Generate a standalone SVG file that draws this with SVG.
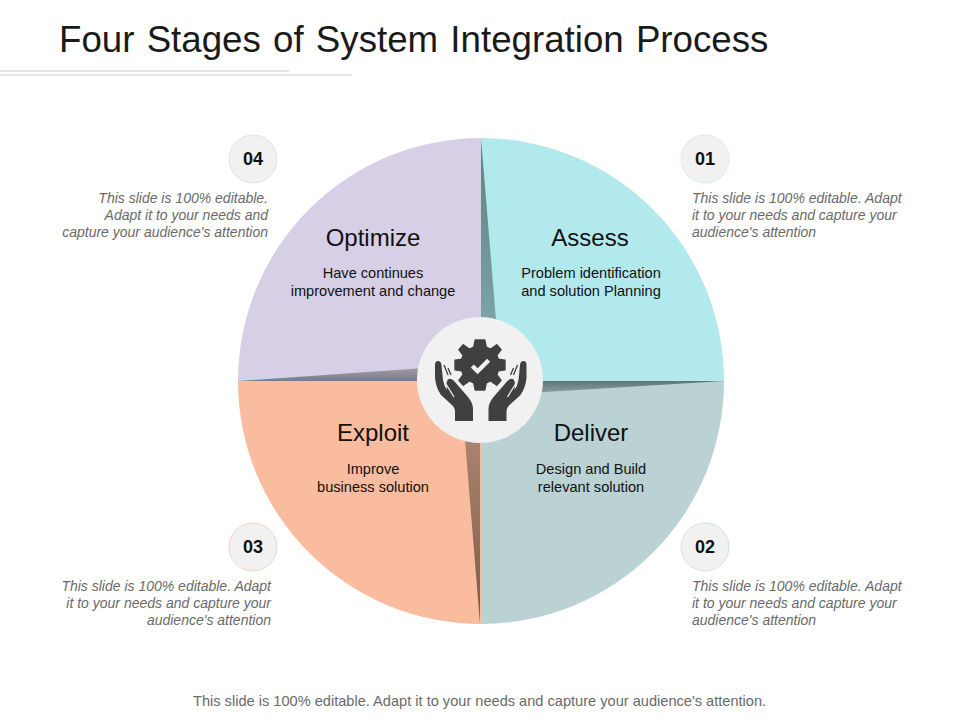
<svg xmlns="http://www.w3.org/2000/svg" width="960" height="720" viewBox="0 0 960 720">
<style>
text{font-family:"Liberation Sans",Arial,sans-serif}
.title{font-size:36.7px;fill:#1a1a1a;word-spacing:2px}
.head{font-size:24px;fill:#111;text-anchor:middle}
.body{font-size:14.6px;fill:#111;text-anchor:middle}
.note{font-size:14px;font-style:italic;fill:#6a6a6a}
.end{text-anchor:end}
.num{font-size:18px;font-weight:bold;fill:#111;text-anchor:middle}
.foot{font-size:14.6px;fill:#6a6a6a}
.badge{fill:#f1f1f2;stroke-width:1}
.ic{fill:#404040}
</style>
<defs>
<linearGradient id="gt" x1="0" y1="0" x2="0" y2="1"><stop offset="0" stop-color="#5f8184"/><stop offset="1" stop-color="#86aeb0"/></linearGradient>
<linearGradient id="gl" x1="0" y1="0" x2="0" y2="1"><stop offset="0" stop-color="#aba8b3"/><stop offset="1" stop-color="#7c7a86"/></linearGradient>
<linearGradient id="gr" x1="0" y1="0" x2="0" y2="1"><stop offset="0" stop-color="#5f7678"/><stop offset="1" stop-color="#9aa8a8"/></linearGradient>
<linearGradient id="gb" x1="0" y1="0" x2="0" y2="1"><stop offset="0" stop-color="#b8917e"/><stop offset="1" stop-color="#7f5a48"/></linearGradient>
<g id="hand">
<path class="ic" d="M35 65Q35 61 38 61Q41 61 41.500 65L43 80Q44 86 47 90L46.500 84Q47 78 51 79Q53 79.500 55 82L68 97Q73 103 73 109V121H55V111Q55 108 52.500 105.500L41 95Q36 88 35 78Z"/>
<path d="M46 84L54 97" fill="none" stroke="#f1f1f2" stroke-width="1.300"/>
<path d="M44 65L48 75M48 68L51 75" fill="none" stroke="#404040" stroke-width="1.300"/>
</g>
</defs>
<g id="header">
<text class="title" x="59" y="52">Four Stages of System Integration Process</text>
<rect x="0" y="70" width="289" height="2" fill="#e6e6e6"/>
<rect x="0" y="74" width="352" height="2" fill="#e6e6e6"/>
</g>
<g id="connectors"></g>
<g id="segment-assess">
<path d="M481 381V138A243 243 0 0 1 724 381Z" fill="#b2e9ed"/>
<path d="M481 138L496 320V381H481Z" fill="url(#gt)"/>
<text class="head" x="590" y="246">Assess</text>
<text class="body"><tspan x="591" y="278">Problem identification</tspan><tspan x="591" y="296">and solution Planning</tspan></text>
</g>
<g id="segment-deliver">
<path d="M481 381H724A243 243 0 0 1 481 624Z" fill="#bad2d4"/>
<path d="M724 381L480 396V381Z" fill="url(#gr)"/>
<text class="head" x="591" y="441">Deliver</text>
<text class="body"><tspan x="591" y="474">Design and Build</tspan><tspan x="591" y="492">relevant solution</tspan></text>
</g>
<g id="segment-exploit">
<path d="M481 381V624A243 243 0 0 1 238 381Z" fill="#fabc9f"/>
<path d="M480 624L465 440V381H480Z" fill="url(#gb)"/>
<text class="head" x="373" y="441">Exploit</text>
<text class="body"><tspan x="373" y="474">Improve</tspan><tspan x="373" y="492">business solution</tspan></text>
</g>
<g id="segment-optimize">
<path d="M481 381H238A243 243 0 0 1 481 138Z" fill="#d6cfe6"/>
<path d="M238 381L481 364V381Z" fill="url(#gl)"/>
<text class="head" x="373" y="246">Optimize</text>
<text class="body"><tspan x="373" y="278">Have continues</tspan><tspan x="373" y="296">improvement and change</tspan></text>
</g>
<g id="hub">
<circle cx="480" cy="380" r="63" fill="#f1f1f2"/>
<g transform="translate(480 365) scale(.96)">
<path class="ic" stroke="#404040" stroke-width="1.500" stroke-linejoin="round" d="M-5-26H5L6.500-18.500L11-16.500L17.500-21L22-16L17.500-10L19-6L26-5V5L19 6L17.500 10L22 16L17.500 21L11 16.500L6.500 18.500L5 26H-5L-6.500 18.500L-11 16.500L-17.500 21L-22 16L-17.500 10L-19 6L-26 5V-5L-19-6L-17.500-10L-22-16L-17.500-21L-11-16.500L-6.500-18.500Z"/>
<path d="M-8 1L-2.500 6.500L9-5" fill="none" stroke="#f1f1f2" stroke-width="4.500"/>
</g>
<use href="#hand" transform="translate(400 300)"/>
<use href="#hand" transform="translate(561.500 300) scale(-1 1)"/>
</g>
<g id="item-01">
<circle class="badge" cx="705" cy="159" r="24" stroke="#d6eef0"/>
<text class="num" x="705" y="165">01</text>
<text class="note"><tspan x="692" y="203">This slide is 100% editable. Adapt</tspan><tspan x="692" y="220">it to your needs and capture your</tspan><tspan x="692" y="237">audience's attention</tspan></text>
</g>
<g id="item-02">
<circle class="badge" cx="705" cy="547" r="24" stroke="#d3e2e3"/>
<text class="num" x="705" y="553">02</text>
<text class="note"><tspan x="692" y="591">This slide is 100% editable. Adapt</tspan><tspan x="692" y="608">it to your needs and capture your</tspan><tspan x="692" y="625">audience's attention</tspan></text>
</g>
<g id="item-03">
<circle class="badge" cx="253" cy="547" r="24" stroke="#f5d5c4"/>
<text class="num" x="253" y="553">03</text>
<text class="note end"><tspan x="271" y="591">This slide is 100% editable. Adapt</tspan><tspan x="271" y="608">it to your needs and capture your</tspan><tspan x="271" y="625">audience's attention</tspan></text>
</g>
<g id="item-04">
<circle class="badge" cx="253" cy="159" r="24" stroke="#e3dfee"/>
<text class="num" x="253" y="165">04</text>
<text class="note end"><tspan x="268" y="203">This slide is 100% editable.</tspan><tspan x="268" y="220">Adapt it to your needs and</tspan><tspan x="268" y="237">capture your audience's attention</tspan></text>
</g>
<text class="foot" x="193" y="706">This slide is 100% editable. Adapt it to your needs and capture your audience's attention.</text>
</svg>
